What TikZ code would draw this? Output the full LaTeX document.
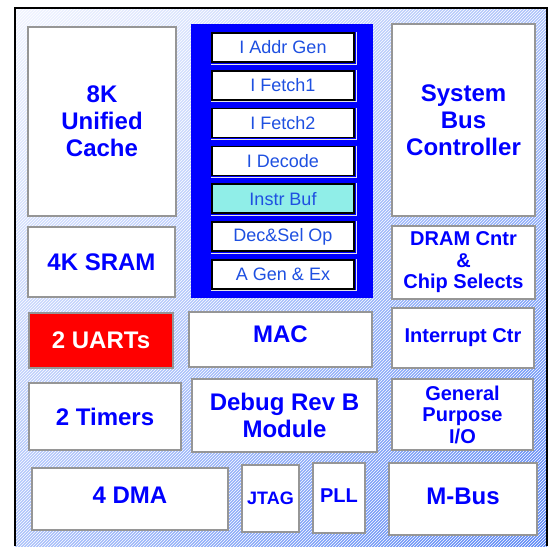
\documentclass[tikz,border=0pt]{standalone}
\usepackage{fontspec}
\setmainfont{Liberation Sans}
\usetikzlibrary{shapes,shadings,patterns}
\definecolor{ChipBlue}{RGB}{0, 0, 255}
\definecolor{StageBlue}{RGB}{30, 80, 225}
\definecolor{BufCyan}{RGB}{144, 238, 232}
\definecolor{FrameGray}{RGB}{150, 150, 150}
\definecolor{UartRed}{RGB}{255, 0, 0}
\definecolor{BgLight}{RGB}{242, 245, 255}
\definecolor{BgMid}{RGB}{172, 194, 250}
\definecolor{BgDark}{RGB}{92, 136, 246}

\begin{document}
\begin{tikzpicture}[x=1pt, y=-1pt,
    unit/.style={draw=FrameGray, line width=1.8pt, fill=white, text=ChipBlue, align=center,
      inner sep=0pt, font=\fontsize{24}{27}\selectfont\bfseries},
    smallunit/.style={unit, font=\fontsize{20}{21.5}\selectfont\bfseries},
    stage/.style={draw=black, line width=1.6pt, text=StageBlue, inner sep=0pt,
      minimum width=142pt, minimum height=29pt, font=\fontsize{18}{20}\selectfont}]

    \useasboundingbox (0,0) rectangle (548,546);
    % Die background
    \shade[upper left=BgLight, upper right=BgMid, lower left=BgMid, lower right=BgDark]
      (15,8) rectangle (547,546);
    \fill[pattern=north east lines, pattern color=white, fill opacity=0.5] (15,8) rectangle (547,546);
    \draw[line width=1.5pt] (15,546) -- (15,8) -- (547,8) -- (547,546);

    % Left column
    \node[unit, minimum width=148pt, minimum height=189pt] (cache) at (102,121.5) {8K\\Unified\\Cache};
    \node[unit, minimum width=147pt, minimum height=70pt] (sram) at (101.5,262) {4K SRAM};
    \node[unit, fill=UartRed, text=white, minimum width=144pt, minimum height=55pt] (uart) at (101,340.5) {2 UARTs};
    \node[unit, minimum width=152pt, minimum height=67pt] (timers) at (105,416.5) {2 Timers};

    % Pipeline
    \node[fill=ChipBlue, inner sep=0pt, minimum width=182pt, minimum height=274pt] (pipe) at (282,161) {};
    \foreach \i/\lbl/\boxfill in {0/I Addr Gen/white, 1/I Fetch1/white, 2/I Fetch2/white, 3/I Decode/white,
        4/Instr Buf/BufCyan, 5/Dec\&Sel Op/white, 6/A Gen \& Ex/white} {
      \node[stage, fill=\boxfill] (stage\i) at (283, 47.5+37.8*\i) {\lbl};
      \draw[white!80!gray, line width=1pt] ([xshift=1.3pt]stage\i.north east)
        -- ([xshift=1.3pt, yshift=-1.3pt]stage\i.south east) -- ([yshift=-1.3pt]stage\i.south west);
    }

    % Middle column
    \node[unit, minimum width=183pt, minimum height=55pt, text depth=10pt] (mac) at (280.5,339.5) {MAC};
    \node[unit, minimum width=185pt, minimum height=73pt] (debug) at (284.5,415.5) {Debug Rev B\\Module};

    % Right column
    \node[unit, minimum width=143pt, minimum height=192pt] (sysbus) at (463.5,120) {System\\Bus\\Controller};
    \node[smallunit, minimum width=143pt, minimum height=73pt] (dram) at (463.5,262.5) {DRAM Cntr\\\&\\Chip Selects};
    \node[smallunit, minimum width=142pt, minimum height=60pt] (intr) at (463,338) {Interrupt Ctr};
    \node[smallunit, minimum width=141pt, minimum height=71pt] (gpio) at (462.5,414.5) {General\\Purpose\\I/O};

    % Bottom row
    \node[unit, minimum width=196pt, minimum height=62pt, text depth=8pt] (dma) at (130,499) {4 DMA};
    \node[unit, font=\fontsize{18}{20}\selectfont\bfseries, minimum width=57pt, minimum height=67pt] (jtag) at (270.5,498.5) {JTAG};
    \node[smallunit, minimum width=52pt, minimum height=70pt, text depth=5pt] (pll) at (339,498) {PLL};
    \node[unit, minimum width=148pt, minimum height=72pt, text depth=6pt] (mbus) at (463,499) {M-Bus};
  \end{tikzpicture}
\end{document}
